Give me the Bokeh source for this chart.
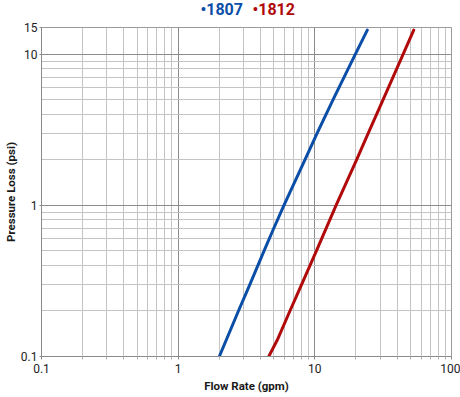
from bokeh.plotting import figure
from bokeh.layouts import column
from bokeh.models import FixedTicker, CustomJSTickFormatter, Range1d
from bokeh.core.properties import value
from bokeh.embed import file_html
from bokeh.resources import INLINE

# ---- data ----
series_names = ["1807", "1812"]
flow_1807 = [2.0, 2.76, 3.35, 4.25, 4.99, 5.94, 8.46, 10.4, 13.6, 19.8, 24.2]
psi_1807 = [0.1, 0.2, 0.3, 0.5, 0.7, 1.0, 2.0, 3.0, 5.0, 10.0, 14.4]
flow_1812 = [4.6, 5.3, 6.57, 8.01, 10.27, 14.3, 20.2, 24.6, 31.6, 44.3, 52.9]
psi_1812 = [0.1, 0.128, 0.2, 0.3, 0.5, 1.0, 2.0, 3.0, 5.0, 10.0, 14.4]

x_major_ticks = [0.1, 1, 10, 100]
x_minor_ticks = [0.2, 0.3, 0.4, 0.5, 0.6, 0.7, 0.8, 0.9,
                 2, 3, 4, 5, 6, 7, 8, 9,
                 20, 30, 40, 50, 60, 70, 80, 90]
y_major_ticks = [0.1, 1, 10, 15]
y_minor_ticks = [0.2, 0.3, 0.4, 0.5, 0.6, 0.7, 0.8, 0.9,
                 2, 3, 4, 5, 6, 7, 8, 9]

BLUE = "#0b4ea8"
RED = "#b00a0a"
FONT = "Roboto"

BORDER_L, BORDER_R = 41, 9
W = 460

# ---- legend strip (coloured series names); x range in page pixels ----
leg = figure(width=W, height=20,
             x_range=Range1d(BORDER_L, W - BORDER_R), y_range=Range1d(0, 20),
             x_axis_location=None, y_axis_location=None,
             output_backend="svg", toolbar_location=None,
             min_border_left=BORDER_L, min_border_right=BORDER_R,
             min_border_top=0, min_border_bottom=0,
             outline_line_color=None)
leg.grid.visible = False
leg.text(x=[200, 252], y=[11.5, 11.5],
         text=["\u2022" + n for n in series_names],
         text_color=[BLUE, RED],
         text_font=value(FONT), text_font_size=value("16px"),
         text_font_style="bold", text_align="left", text_baseline="alphabetic")

# ---- main chart ----
p = figure(width=W, height=377, x_axis_type="log", y_axis_type="log",
           x_range=(0.1, 100), y_range=(0.1, 15),
           output_backend="svg", toolbar_location=None,
           min_border_left=BORDER_L, min_border_right=BORDER_R,
           min_border_top=7, min_border_bottom=41)

p.outline_line_color = "#9a9a9a"
p.background_fill_color = "white"
p.border_fill_color = "white"

fmt = CustomJSTickFormatter(code="return String(tick);")

p.xaxis.ticker = FixedTicker(ticks=x_major_ticks, minor_ticks=x_minor_ticks)
p.yaxis.ticker = FixedTicker(ticks=y_major_ticks, minor_ticks=y_minor_ticks)
p.xaxis.formatter = fmt
p.yaxis.formatter = fmt

for ax in (p.xaxis[0], p.yaxis[0]):
    ax.axis_line_color = "#8a8a8a"
    ax.major_tick_line_color = "#8a8a8a"
    ax.minor_tick_line_color = "#b0b0b0"
    ax.major_label_text_font = FONT
    ax.major_label_text_font_size = "12px"
    ax.major_label_text_color = "#222222"
    ax.axis_label_text_font = FONT
    ax.axis_label_text_font_size = "11.5px"
    ax.axis_label_text_font_style = "bold"
    ax.axis_label_text_color = "#1a1a1a"

p.xaxis.axis_label = "Flow Rate (gpm)"
p.yaxis.axis_label = "Pressure Loss (psi)"
p.xaxis.major_tick_out = 3
p.xaxis.major_tick_in = 0
p.xaxis.minor_tick_out = 3
p.xaxis.minor_tick_in = 0
p.xaxis.major_label_standoff = 4
p.xaxis.axis_label_standoff = 3
p.yaxis.major_tick_out = 2
p.yaxis.major_tick_in = 0
p.yaxis.minor_tick_out = 0
p.yaxis.minor_tick_in = 0
p.yaxis.major_label_standoff = 2
p.yaxis.axis_label_standoff = 0

p.xgrid.grid_line_color = "#8c8c8c"
p.ygrid.grid_line_color = "#8c8c8c"
p.xgrid.minor_grid_line_color = "#c4c4c4"
p.ygrid.minor_grid_line_color = "#c4c4c4"

p.line(flow_1807, psi_1807, line_color=BLUE, line_width=3, line_cap="round", line_join="round")
p.line(flow_1812, psi_1812, line_color=RED, line_width=3, line_cap="round", line_join="round")

layout = column(leg, p, spacing=0)
open("out.html", "w").write(file_html(layout, INLINE))
